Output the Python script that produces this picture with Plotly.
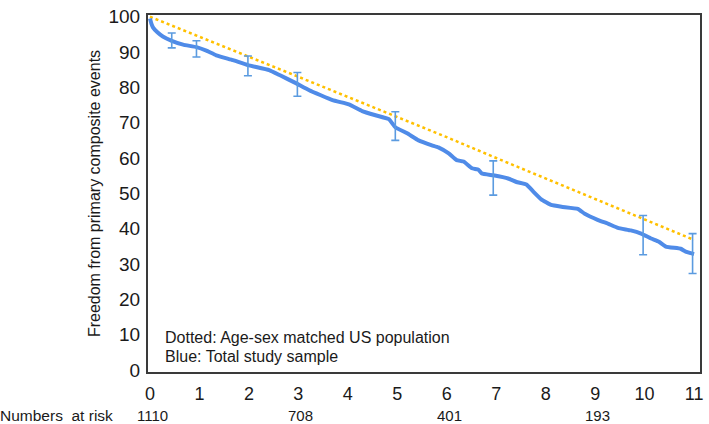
import plotly.graph_objects as go

# Kaplan-Meier style curve: total study sample
km_years = [0, 0.03, 0.06, 0.15, 0.26, 0.44, 0.67, 0.94, 1.14, 1.34, 1.68, 1.98,
            2.41, 2.62, 2.95, 3.22, 3.69, 4.02, 4.29, 4.56, 4.83, 4.96, 5.20, 5.43,
            5.70, 5.83, 6.04, 6.20, 6.34, 6.51, 6.64, 6.71, 6.94, 7.24, 7.41, 7.61,
            7.75, 7.91, 8.11, 8.32, 8.65, 8.79, 9.05, 9.26, 9.46, 9.72, 9.93, 10.13,
            10.29, 10.43, 10.73, 10.83, 11.0]
km_values = [99.5, 98.0, 97.0, 95.6, 94.4, 93.2, 92.1, 91.4, 90.4, 89.1, 87.7, 86.3,
             84.9, 83.5, 81.2, 79.2, 76.4, 75.2, 73.3, 72.1, 71.0, 68.7, 67.0, 65.0,
             63.6, 63.0, 61.3, 59.4, 59.0, 57.1, 56.7, 55.6, 55.1, 54.2, 53.2, 52.5,
             50.5, 48.3, 46.7, 46.2, 45.6, 44.2, 42.5, 41.4, 40.2, 39.5, 38.6, 37.2,
             36.3, 34.9, 34.3, 33.5, 32.8]

# Confidence intervals
ci_years = [0.44, 0.94, 1.98, 2.98, 4.96, 6.94, 9.97, 10.97]
ci_center = [93.2, 91.4, 86.3, 81.0, 69.0, 55.1, 38.5, 32.9]
ci_upper = [95.4, 93.2, 88.9, 84.2, 73.1, 59.2, 43.7, 38.6]
ci_lower = [91.2, 88.6, 83.3, 77.5, 65.0, 49.5, 32.6, 27.3]

# Age-sex matched US population (dotted)
pop_years = [0, 1, 2, 3, 4, 5, 6, 7, 8, 9, 10, 11]
pop_values = [100, 94.4, 88.7, 83.0, 77.3, 71.7, 65.9, 60.0, 54.2, 48.3, 42.4, 36.8]

# Numbers at risk
risk_years = [0, 3, 6, 9]
risk_numbers = ["1110", "708", "401", "193"]

x_ticks = list(range(0, 12))
y_ticks = list(range(0, 101, 10))

err_plus = [u - c for u, c in zip(ci_upper, ci_center)]
err_minus = [c - l for c, l in zip(ci_center, ci_lower)]

FONT = "Liberation Sans, Arial, sans-serif"

fig = go.Figure()
fig.add_trace(go.Scatter(
    x=pop_years, y=pop_values, mode="lines",
    line=dict(color="#FFC000", width=2.5, dash="dot"),
    showlegend=False, hoverinfo="skip"))
fig.add_trace(go.Scatter(
    x=km_years, y=km_values, mode="lines",
    line=dict(color="#4F8BE8", width=4, shape="spline", smoothing=0.3),
    showlegend=False))
fig.add_trace(go.Scatter(
    x=ci_years, y=ci_center, mode="markers",
    marker=dict(size=1, color="rgba(0,0,0,0)"),
    error_y=dict(type="data", symmetric=False, array=err_plus, arrayminus=err_minus,
                 color="#5B9BE0", thickness=1.6, width=4),
    showlegend=False))

annotations = [
    dict(x=0.27, y=9.3, xref="x", yref="y", text="Dotted: Age-sex matched US population",
         showarrow=False, xanchor="left", yanchor="middle",
         font=dict(family=FONT, size=16, color="#1a1a1a")),
    dict(x=0.27, y=3.9, xref="x", yref="y", text="Blue: Total study sample",
         showarrow=False, xanchor="left", yanchor="middle",
         font=dict(family=FONT, size=16, color="#1a1a1a")),
    dict(x=-0.2667, y=-0.122, xref="paper", yref="paper", text="Numbers  at risk",
         showarrow=False, xanchor="left", yanchor="middle", xshift=-3,
         font=dict(family=FONT, size=15.5, color="#1a1a1a")),
]
for yr, n in zip(risk_years, risk_numbers):
    annotations.append(dict(x=yr + 0.05, y=-0.122, xref="x", yref="paper", text=n,
                            showarrow=False, xanchor="center", yanchor="middle",
                            font=dict(family=FONT, size=15, color="#1a1a1a")))

fig.update_layout(
    width=709, height=424,
    margin=dict(l=148, r=6, t=10, b=52),
    paper_bgcolor="white", plot_bgcolor="white",
    font=dict(family=FONT, color="#1a1a1a"),
    annotations=annotations,
    xaxis=dict(range=[-0.04, 11.12], tickvals=x_ticks, ticktext=[str(v) for v in x_ticks],
               showgrid=False, zeroline=False, showline=True, linecolor="#3a3a3a",
               linewidth=2, mirror=True, ticks="outside", ticklen=4,
               tickcolor="rgba(0,0,0,0)", tickfont=dict(size=18, family=FONT)),
    yaxis=dict(range=[-0.6, 100.5], tickvals=y_ticks, ticktext=[str(v) for v in y_ticks],
               showgrid=False, zeroline=False, showline=True, linecolor="#3a3a3a",
               linewidth=2, mirror=True, ticks="outside", ticklen=2,
               tickcolor="rgba(0,0,0,0)", tickfont=dict(size=19, family=FONT),
               ticklabeloverflow="allow",
               title=dict(text="Freedom from primary composite events",
                          font=dict(size=16, family=FONT), standoff=4)),
)

fig.write_html("out.html", config={"displayModeBar": False},
               post_script="document.body.style.margin='0';document.body.style.padding='0';")
